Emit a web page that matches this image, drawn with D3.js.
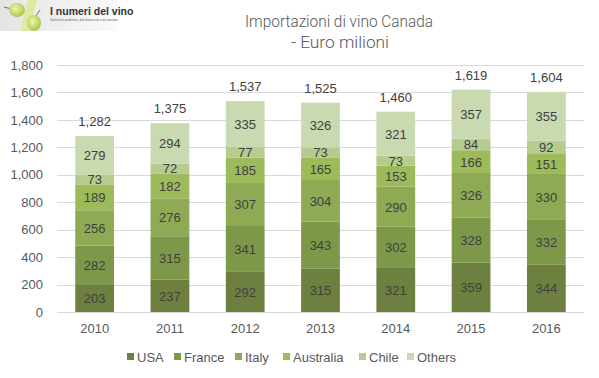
<!DOCTYPE html>
<html>
<head>
<meta charset="utf-8">
<script src="https://cdn.jsdelivr.net/npm/d3@7"></script>
<style>
body { margin: 0; background: #fff; }
text { font-family: "Liberation Sans", Arial, sans-serif; }
</style>
</head>
<body>
<script>
const w = 599
const h = 378
const margin = {top: 65, right: 15, bottom: 66, left: 57}

const years = ['2010', '2011', '2012', '2013', '2014', '2015', '2016']
const series = ['USA', 'France', 'Italy', 'Australia', 'Chile', 'Others']
const usa = [203, 237, 292, 315, 321, 359, 344]
const france = [282, 315, 341, 343, 302, 328, 332]
const italy = [256, 276, 307, 304, 290, 326, 330]
const australia = [189, 182, 185, 165, 153, 166, 151]
const chile = [73, 72, 77, 73, 73, 84, 92]
const others = [279, 294, 335, 326, 321, 357, 355]
const totals = [1282, 1375, 1537, 1525, 1460, 1619, 1604]
const yTicks = [0, 200, 400, 600, 800, 1000, 1200, 1400, 1600, 1800]
const colors = ['#6d803f', '#7e984a', '#8eaa54', '#9dbb5b', '#b6cc8f', '#c9d9b0']

const values = [usa, france, italy, australia, chile, others]
const table = years.map((y, i) => {
	const row = {year: y}
	series.forEach((s, j) => { row[s] = values[j][i] })
	return row
})

const svg = d3.select('body')
	.append('svg')
	.attr('width', w)
	.attr('height', h)

// logo top-left
const defs = svg.append('defs')
const bg = defs.append('linearGradient').attr('id', 'logobg')
	.attr('x1', 0).attr('y1', 0).attr('x2', 1).attr('y2', 0)
bg.append('stop').attr('offset', '0%').attr('stop-color', '#e4e4e4')
bg.append('stop').attr('offset', '100%').attr('stop-color', '#fafafa')
const grape = defs.append('radialGradient').attr('id', 'grape')
	.attr('cx', 0.4).attr('cy', 0.4).attr('r', 0.6)
grape.append('stop').attr('offset', '0%').attr('stop-color', '#eef5b0')
grape.append('stop').attr('offset', '100%').attr('stop-color', '#a9c94a')

const logo = svg.append('g')
logo.append('rect').attr('x', 0).attr('y', 0).attr('width', 117).attr('height', 31).attr('fill', 'url(#logobg)')
logo.append('path').attr('d', 'M20,31 L29,31 L37,0 L28,0 Z').attr('fill', '#dfeaa0')
logo.append('path').attr('d', 'M4,7 L12,9').attr('stroke', '#8a6d3b').attr('stroke-width', 1)
logo.append('ellipse').attr('cx', 17).attr('cy', 10).attr('rx', 8).attr('ry', 7).attr('fill', 'url(#grape)')
logo.append('path').attr('d', 'M36,16 L40,10').attr('stroke', '#8a6d3b').attr('stroke-width', 1)
logo.append('ellipse').attr('cx', 34).attr('cy', 23).attr('rx', 7).attr('ry', 8).attr('fill', 'url(#grape)')
logo.append('text').attr('x', 50).attr('y', 15)
	.attr('font-size', '10.5px').attr('fill', '#333').attr('font-weight', 'bold')
	.text('I numeri del vino')
logo.append('text').attr('x', 50).attr('y', 21)
	.attr('font-size', '3px').attr('fill', '#666')
	.text('Statistiche produttive, dati di mercato e di consumo.')

// title
svg.append('text')
	.attr('x', 245).attr('y', 27)
	.attr('textLength', 188)
	.attr('lengthAdjust', 'spacingAndGlyphs')
	.attr('font-size', '16px')
	.attr('fill', '#595959')
	.style('font-family', 'Roboto, sans-serif')
	.style('font-weight', 300)
	.text('Importazioni di vino Canada')
svg.append('text')
	.attr('x', 291).attr('y', 48)
	.attr('textLength', 98)
	.attr('lengthAdjust', 'spacingAndGlyphs')
	.attr('font-size', '16px')
	.attr('fill', '#595959')
	.style('font-family', 'Roboto, sans-serif')
	.style('font-weight', 300)
	.text('- Euro milioni')

const xScale = d3.scaleBand()
	.domain(years)
	.range([margin.left, w - margin.right])
	.paddingInner(0.485)
	.paddingOuter(0.2425)

const yScale = d3.scaleLinear()
	.domain([0, 1800])
	.range([h - margin.bottom, margin.top])

// grid
svg.append('g')
	.selectAll('line')
	.data(yTicks)
	.enter()
	.append('line')
	.attr('x1', margin.left)
	.attr('x2', w - margin.right)
	.attr('y1', d => Math.round(yScale(d)) + 0.5)
	.attr('y2', d => Math.round(yScale(d)) + 0.5)
	.attr('stroke', '#d9d9d9')

const yAxis = d3.axisLeft(yScale)
	.tickValues(yTicks)
	.tickFormat(d3.format(','))
	.tickSize(0)
	.tickPadding(14)

svg.append('g')
	.attr('transform', `translate(${margin.left},0)`)
	.call(yAxis)
	.call(g => g.select('.domain').remove())
	.call(g => g.selectAll('text').attr('font-size', '13px').attr('fill', '#595959')
		.style('font-family', '"Liberation Sans", Arial, sans-serif'))

const xAxis = d3.axisBottom(xScale)
	.tickSize(0)
	.tickPadding(12)

svg.append('g')
	.attr('transform', `translate(0,${h - margin.bottom})`)
	.call(xAxis)
	.call(g => g.select('.domain').remove())
	.call(g => g.selectAll('text').attr('font-size', '13px').attr('fill', '#595959')
		.style('font-family', '"Liberation Sans", Arial, sans-serif'))

const stack = d3.stack().keys(series)
const stacked = stack(table)

const layers = svg.append('g')
	.selectAll('g')
	.data(stacked)
	.enter()
	.append('g')
	.attr('fill', (d, i) => colors[i])

layers.selectAll('rect')
	.data(d => d)
	.enter()
	.append('rect')
	.attr('x', d => xScale(d.data.year))
	.attr('width', xScale.bandwidth())
	.attr('y', d => yScale(d[1]))
	.attr('height', d => yScale(d[0]) - yScale(d[1]))

layers.selectAll('text')
	.data(d => d.map(v => ({v, key: d.key})))
	.enter()
	.append('text')
	.attr('x', d => xScale(d.v.data.year) + xScale.bandwidth() / 2)
	.attr('y', d => (yScale(d.v[0]) + yScale(d.v[1])) / 2 + 5)
	.attr('text-anchor', 'middle')
	.attr('font-size', '13px')
	.attr('fill', '#404040')
	.text(d => d.v.data[d.key])

// totals
svg.append('g')
	.selectAll('text')
	.data(years)
	.enter()
	.append('text')
	.attr('x', d => xScale(d) + xScale.bandwidth() / 2)
	.attr('y', (d, i) => yScale(totals[i]) - 10)
	.attr('text-anchor', 'middle')
	.attr('font-size', '13px')
	.attr('fill', '#404040')
	.text((d, i) => d3.format(',')(totals[i]))

// legend
const legendX = [127, 174, 235, 283, 359, 407]
const legend = svg.append('g')
	.selectAll('g')
	.data(series)
	.enter()
	.append('g')
	.attr('transform', (d, i) => `translate(${legendX[i]},357)`)

legend.append('rect')
	.attr('x', 0).attr('y', -4)
	.attr('width', 7).attr('height', 7)
	.attr('fill', (d, i) => colors[i])

legend.append('text')
	.attr('x', 10).attr('y', 4.5)
	.attr('font-size', '13px')
	.attr('fill', '#595959')
	.text(d => d)
</script>
</body>
</html>
